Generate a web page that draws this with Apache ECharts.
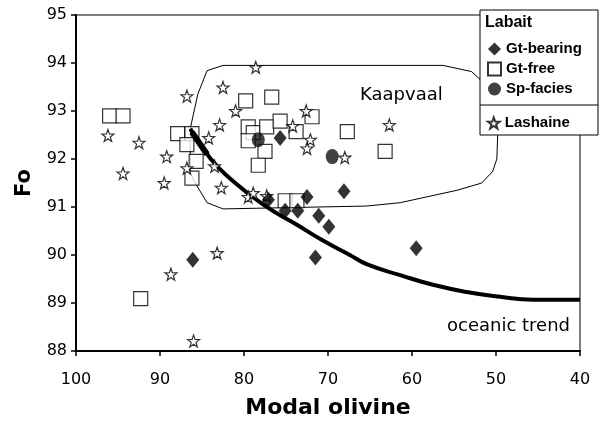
<!DOCTYPE html>
<html>
<head>
<meta charset="utf-8">
<script src="https://cdn.jsdelivr.net/npm/echarts@6/dist/echarts.min.js"></script>
<style>
  html, body { margin: 0; padding: 0; background: #fff; }
  #box { width: 600px; height: 424px; }
</style>
</head>
<body>
<div id="box"></div>
<script>
// Labait: Gt-bearing [modal olivine, Fo]
var gtBearing = [
    [86.1, 89.9], [77.1, 91.15], [75.1, 90.92], [73.6, 90.92], [72.5, 91.21],
    [71.1, 90.82], [69.9, 90.59], [71.5, 89.95], [68.1, 91.33], [59.5, 90.14],
    [75.7, 92.44]
]
// Labait: Gt-free
var gtFree = [
    [96.0, 92.9], [94.4, 92.9], [87.9, 92.53], [86.2, 92.53], [86.8, 92.3],
    [85.7, 91.95], [86.2, 91.6], [79.8, 93.21], [76.7, 93.29], [79.5, 92.67],
    [78.9, 92.55], [79.5, 92.38], [77.3, 92.67], [75.7, 92.79], [73.8, 92.57],
    [71.9, 92.88], [77.5, 92.16], [78.3, 91.87], [67.7, 92.57], [63.2, 92.16],
    [75.1, 91.13], [73.7, 91.13], [92.3, 89.09]
]
// Labait: Sp-facies
var spFacies = [[78.3, 92.4], [69.5, 92.05]]
// Lashaine
var lashaine = [
    [96.2, 92.49], [92.5, 92.34], [94.4, 91.7], [89.2, 92.05], [89.5, 91.5],
    [86.8, 93.31], [86.8, 91.81], [78.6, 93.91], [82.5, 93.49], [81.0, 93.0],
    [82.9, 92.71], [84.2, 92.44], [83.5, 91.85], [82.7, 91.4], [79.5, 91.21],
    [78.9, 91.29], [77.3, 91.23], [72.6, 93.0], [74.2, 92.69], [72.1, 92.4],
    [72.5, 92.22], [68.0, 92.03], [62.7, 92.71], [83.2, 90.04], [88.7, 89.6],
    [86.0, 88.21]
]
// Kaapvaal field outline
var kaapvaal = [
    [82.5, 93.95], [56.3, 93.95], [52.9, 93.82], [51.9, 93.66], [50.6, 93.2],
    [49.8, 92.49], [49.9, 92.0], [50.4, 91.74], [51.7, 91.5], [54.6, 91.35],
    [61.4, 91.09], [65.4, 91.02], [82.5, 90.96], [84.4, 91.09], [85.6, 91.44],
    [86.4, 91.7], [86.4, 92.63], [85.5, 93.35], [84.4, 93.84], [82.5, 93.95]
]
// oceanic trend
var oceanicTrend = [
    [86.4, 92.63], [84.0, 92.01], [81.7, 91.6], [77.7, 91.05], [73.7, 90.63],
    [70.6, 90.3], [67.4, 90.0], [65.4, 89.81], [61.4, 89.58], [57.5, 89.38],
    [53.5, 89.23], [49.5, 89.13], [45.6, 89.07], [40, 89.07]
]
// thick head of the trend line
var trendHead = [[86.2, 92.56], [84.4, 92.1]]

var star = 'path://M0,-10 L2.35,-3.24 L9.51,-3.09 L3.8,1.24 L5.88,8.09 L0,4 L-5.88,8.09 L-3.8,1.24 L-9.51,-3.09 L-2.35,-3.24 Z'
var font = 'DejaVu Sans'
var legendFont = '"Liberation Sans", Arial'

var MyEcharts = echarts.init(document.getElementById('box'))

var legendText = {
    fontFamily: legendFont,
    fontSize: 15,
    fontWeight: 'bold',
    lineHeight: 16,
    color: '#000'
}

var option = {
    animation: false,
    backgroundColor: '#fff',
    grid: {
        show: true,
        left: 76,
        right: 20,
        top: 15,
        bottom: 69,
        borderColor: '#000',
        borderWidth: 1
    },
    xAxis: {
        type: 'value',
        inverse: true,
        min: 40,
        max: 100,
        interval: 10,
        name: 'Modal olivine',
        nameLocation: 'middle',
        nameGap: 46,
        nameTextStyle: { fontFamily: font, fontSize: 22, fontWeight: 'bold', color: '#000' },
        axisLine: { lineStyle: { color: '#000', width: 2 } },
        axisTick: { length: 5, lineStyle: { color: '#000', width: 1.5 } },
        axisLabel: { margin: 21, fontFamily: font, fontSize: 16, color: '#000' },
        splitLine: { show: false }
    },
    yAxis: {
        type: 'value',
        min: 88,
        max: 95,
        interval: 1,
        name: 'Fo',
        nameLocation: 'middle',
        nameGap: 41,
        nameTextStyle: { fontFamily: font, fontSize: 21, fontWeight: 'bold', color: '#000' },
        axisLine: { lineStyle: { color: '#000', width: 2 } },
        axisTick: { length: 5, lineStyle: { color: '#000', width: 1.5 } },
        axisLabel: { margin: 9, fontFamily: font, fontSize: 16, color: '#000' },
        splitLine: { show: false }
    },
    legend: [
        {
            data: ['Gt-bearing', 'Gt-free', 'Sp-facies'],
            orient: 'vertical',
            left: 482,
            top: 36,
            itemWidth: 13,
            itemHeight: 13,
            itemGap: 4,
            selectedMode: false,
            textStyle: legendText,
            z: 60
        },
        {
            data: ['Lashaine'],
            orient: 'vertical',
            left: 482,
            top: 110,
            itemWidth: 12,
            itemHeight: 11,
            selectedMode: false,
            textStyle: legendText,
            z: 60
        }
    ],
    graphic: [
        {
            type: 'rect',
            z: 50,
            shape: { x: 480, y: 10, width: 118, height: 125 },
            style: { fill: '#fff', stroke: '#000', lineWidth: 1 }
        },
        {
            type: 'line',
            z: 51,
            shape: { x1: 480, y1: 105, x2: 598, y2: 105 },
            style: { stroke: '#000', lineWidth: 1 }
        },
        {
            type: 'text',
            z: 60,
            left: 485,
            top: 15,
            style: { text: 'Labait', font: 'bold 16px ' + legendFont, fill: '#000' }
        },
        {
            type: 'text',
            z: 10,
            left: 360,
            top: 86,
            style: { text: 'Kaapvaal', font: '18px ' + font, fill: '#000' }
        },
        {
            type: 'text',
            z: 10,
            left: 447,
            top: 317,
            style: { text: 'oceanic trend', font: '18px ' + font, fill: '#000' }
        }
    ],
    series: [
        {
            name: 'Kaapvaal',
            type: 'line',
            data: kaapvaal,
            symbol: 'none',
            lineStyle: { color: '#000', width: 1 },
            z: 1
        },
        {
            name: 'Gt-free',
            type: 'scatter',
            data: gtFree,
            symbol: 'rect',
            symbolSize: 14,
            itemStyle: { color: '#fff', borderColor: '#000', borderWidth: 1.2 },
            z: 2
        },
        {
            name: 'oceanic trend',
            type: 'line',
            data: oceanicTrend,
            smooth: true,
            symbol: 'none',
            lineStyle: { color: '#000', width: 4 },
            z: 3
        },
        {
            name: 'trend head',
            type: 'line',
            data: trendHead,
            symbol: 'none',
            lineStyle: { color: '#000', width: 6, cap: 'butt' },
            z: 3
        },
        {
            name: 'Lashaine',
            type: 'scatter',
            data: lashaine,
            symbol: star,
            symbolSize: 12,
            itemStyle: { color: '#fff', borderColor: '#000', borderWidth: 1.2 },
            z: 4
        },
        {
            name: 'Gt-bearing',
            type: 'scatter',
            data: gtBearing,
            symbol: 'diamond',
            symbolSize: [13, 16],
            itemStyle: { color: '#000' },
            z: 5
        },
        {
            name: 'Sp-facies',
            type: 'scatter',
            data: spFacies,
            symbol: 'circle',
            symbolSize: [13, 15],
            itemStyle: { color: '#111' },
            z: 5
        }
    ]
}

MyEcharts.setOption(option)
</script>
</body>
</html>
